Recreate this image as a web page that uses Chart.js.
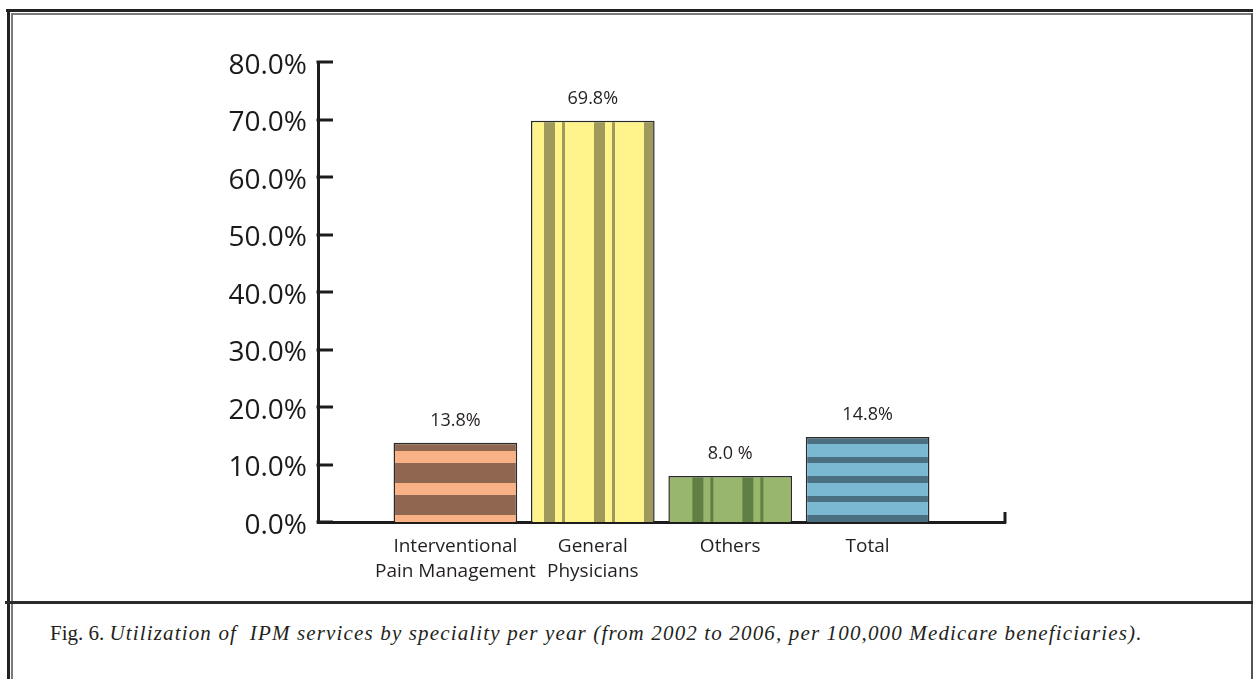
<!DOCTYPE html>
<html>
<head>
<meta charset="utf-8">
<script src="https://cdn.jsdelivr.net/npm/chart.js@4/dist/chart.umd.min.js"></script>
<style>
  html, body { margin: 0; padding: 0; background: #fff; }
  body { width: 1253px; height: 679px; position: relative; overflow: hidden; }
  .rule { position: absolute; }
  #chartBox { position: absolute; left: 0; top: 0; width: 1253px; height: 600px; }
  #caption {
    position: absolute; left: 50px; top: 621px;
    font-family: "Liberation Serif", "DejaVu Serif", serif;
    font-size: 21px; color: #231f20; white-space: nowrap;
  }
  #caption i { letter-spacing: 1.15px; }
</style>
</head>
<body>
  <!-- double frame lines -->
  <div class="rule" style="left:6px; top:9px; right:0; height:3px; background:#222;"></div>
  <div class="rule" style="left:11px; top:13px; right:1px; height:1.5px; background:#7a7a7a;"></div>
  <div class="rule" style="left:7px; top:9px; bottom:0; width:3px; background:#222;"></div>
  <div class="rule" style="left:11px; top:13px; bottom:0; width:1.5px; background:#7a7a7a;"></div>
  <div class="rule" style="left:1251px; top:13px; bottom:0; width:1.5px; background:#555;"></div>
  <div class="rule" style="left:5px; top:601px; right:0; height:3px; background:#2b2b2b;"></div>

  <div id="chartBox"><canvas id="c"></canvas></div>

  <div id="caption">Fig. 6. <i>Utilization of &nbsp;IPM services by speciality per year (from 2002 to 2006, per 100,000 Medicare beneficiaries).</i></div>

<script>
// ---- data ----
const categories = [
  ["Interventional", "Pain Management"],
  ["General", "Physicians"],
  ["Others"],
  ["Total"]
];
const utilization = [13.8, 69.8, 8.0, 14.8];
const valueLabels = ["13.8%", "69.8%", "8.0 %", "14.8%"];
const yTickLabels = ["0.0%", "10.0%", "20.0%", "30.0%", "40.0%", "50.0%", "60.0%", "70.0%", "80.0%"];

// ---- bar fills: striped patterns (one per category) ----
const CAT_PCT = 0.9;
const stripeStyles = [
  { dir: "h", period: 32, base: "#f9b285", ink: "#8f6650", bands: [[7, 27]] },
  { dir: "v", period: 50, base: "#fff38c", ink: "#9f9a5c", bands: [[13, 24], [31, 34]] },
  { dir: "v", period: 50, base: "#98b76c", ink: "#5f7f45", bands: [[24, 35], [42, 45]] },
  { dir: "h", period: 39, base: "#7bb8d1", ink: "#4a6f80", bands: [[0, 7], [20, 26]] }
];

const patternCache = {};
function stripePattern(i, left, basePx) {
  const s = stripeStyles[i];
  const key = i + ":" + left.toFixed(2) + ":" + basePx.toFixed(2);
  if (patternCache[key]) return patternCache[key];
  const tile = document.createElement("canvas");
  const P = s.period;
  tile.width = s.dir === "v" ? P : 8;
  tile.height = s.dir === "h" ? P : 8;
  const g = tile.getContext("2d");
  g.fillStyle = s.base;
  g.fillRect(0, 0, tile.width, tile.height);
  g.fillStyle = s.ink;
  s.bands.forEach(([a, b]) => {
    if (s.dir === "v") g.fillRect(a, 0, b - a, tile.height);
    else g.fillRect(0, P - b, tile.width, b - a); // measured upward from the baseline
  });
  const pat = document.getElementById("c").getContext("2d").createPattern(tile, "repeat");
  if (s.dir === "v") pat.setTransform(new DOMMatrix([1, 0, 0, 1, left, 0]));
  else pat.setTransform(new DOMMatrix([1, 0, 0, 1, 0, basePx - P]));
  patternCache[key] = pat;
  return pat;
}

// category axis padded with an empty slot on each side
const xLabels = [""].concat(categories, [""]);
const xData = [null].concat(utilization, [null]);

// inward tick marks on the value axis and the end mark on the category axis
const axisMarks = {
  id: "axisMarks",
  afterDraw(chart) {
    const { ctx, chartArea } = chart;
    const y = chart.scales.y;
    ctx.save();
    ctx.strokeStyle = "#1c1c1c";
    ctx.lineWidth = 3;
    ctx.lineCap = "butt";
    y.ticks.forEach(t => {
      const py = Math.round(y.getPixelForValue(t.value));
      ctx.beginPath();
      ctx.moveTo(chartArea.left - 1.5, py);
      ctx.lineTo(chartArea.left + 15, py);
      ctx.stroke();
    });
    const base = y.getPixelForValue(0);
    ctx.beginPath();
    ctx.moveTo(chartArea.right, base + 1.5);
    ctx.lineTo(chartArea.right, base - 10);
    ctx.stroke();
    ctx.restore();
  }
};

// value labels above each bar
const valueTags = {
  id: "valueTags",
  afterDatasetsDraw(chart) {
    const { ctx } = chart;
    const meta = chart.getDatasetMeta(0);
    ctx.save();
    ctx.font = '18px "Open Sans", sans-serif';
    ctx.fillStyle = "#231f20";
    ctx.textAlign = "center";
    ctx.textBaseline = "middle";
    utilization.forEach((v, i) => {
      const bar = meta.data[i + 1];
      ctx.fillText(valueLabels[i], bar.x, bar.y - 22);
    });
    ctx.restore();
  }
};

new Chart(document.getElementById("c"), {
  type: "bar",
  data: {
    labels: xLabels,
    datasets: [{
      data: xData,
      backgroundColor(ctx) {
        const chart = ctx.chart;
        const xs = chart.scales.x, ys = chart.scales.y;
        const k = ctx.dataIndex - 1;
        if (!xs || !ys || k < 0 || k >= stripeStyles.length) return "#ccc";
        const slot = xs.getPixelForValue(1) - xs.getPixelForValue(0);
        const w = slot * CAT_PCT;
        const left = xs.getPixelForValue(ctx.dataIndex) - w / 2;
        return stripePattern(k, left, ys.getPixelForValue(0));
      },
      borderColor: "#2a2a2a",
      borderWidth: 1.5,
      categoryPercentage: CAT_PCT,
      barPercentage: 1
    }]
  },
  options: {
    responsive: true,
    maintainAspectRatio: false,
    animation: false,
    devicePixelRatio: 1,
    layout: { padding: { left: 218, right: 248, top: 62, bottom: 18 } },
    plugins: { legend: { display: false }, tooltip: { enabled: false } },
    scales: {
      x: {
        type: "category",
        offset: false,
        z: 1,
        grid: { display: false, drawTicks: false },
        border: { display: true, color: "#1c1c1c", width: 3 },
        ticks: {
          autoSkip: false,
          maxRotation: 0,
          padding: 12,
          color: "#231f20",
          font: { family: '"Open Sans", sans-serif', size: 19, lineHeight: 1.32 }
        },
        afterFit(scale) { scale.height = 60; }
      },
      y: {
        min: 0,
        max: 80,
        z: 1,
        grid: { display: false, drawTicks: false },
        border: { display: true, color: "#1c1c1c", width: 3 },
        ticks: {
          stepSize: 10,
          padding: 11,
          labelOffset: 4,
          color: "#1a1a1a",
          font: { family: '"Open Sans", sans-serif', size: 28 },
          callback: (v, i) => yTickLabels[i]
        },
        afterFit(scale) { scale.width = 100; }
      }
    }
  },
  plugins: [axisMarks, valueTags]
});
</script>
</body>
</html>
